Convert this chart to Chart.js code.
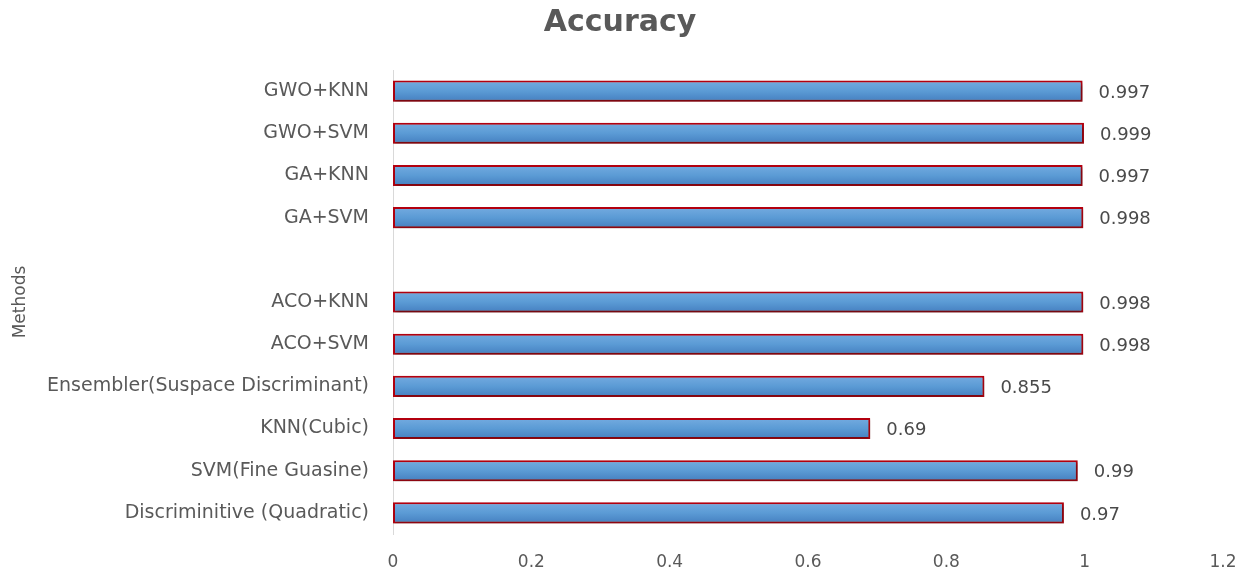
<!DOCTYPE html>
<html>
<head>
<meta charset="utf-8">
<script src="https://cdn.jsdelivr.net/npm/chart.js@4/dist/chart.umd.min.js"></script>
<style>
  html, body { margin: 0; padding: 0; background: #ffffff; }
  #wrap { width: 1256px; height: 571px; }
</style>
</head>
<body>
<div id="wrap"><canvas id="chart" width="1256" height="571"></canvas></div>
<script>
// Methods, listed top to bottom; the empty entry leaves a gap between groups
const methods = [
  'GWO+KNN',
  'GWO+SVM',
  'GA+KNN',
  'GA+SVM',
  '',
  'ACO+KNN',
  'ACO+SVM',
  'Ensembler(Suspace Discriminant)',
  'KNN(Cubic)',
  'SVM(Fine Guasine)',
  'Discriminitive (Quadratic)'
];
const accuracy = [0.997, 0.999, 0.997, 0.998, null, 0.998, 0.998, 0.855, 0.69, 0.99, 0.97];
const xTicks = [0, 0.2, 0.4, 0.6, 0.8, 1, 1.2];

const textGrey = '#595959';
const labelFont = "'DejaVu Sans', Verdana, sans-serif";
const barPct = 0.5;

// vertical blue gradient for each bar, placed from the category scale
function barFill(context) {
  const chart = context.chart;
  const ys = chart.scales && chart.scales.y;
  if (!ys || context.dataIndex === undefined) return '#5b9bd5';
  const cy = ys.getPixelForValue(context.dataIndex);
  const step = Math.abs(ys.getPixelForValue(1) - ys.getPixelForValue(0));
  const h = step * barPct;
  if (!isFinite(cy) || !isFinite(h)) return '#5b9bd5';
  const g = chart.ctx.createLinearGradient(0, cy - h / 2, 0, cy + h / 2);
  g.addColorStop(0, '#74abe0');
  g.addColorStop(0.5, '#5b9bd5');
  g.addColorStop(1, '#457fc0');
  return g;
}

// soft drop shadow under the bars
const barShadow = {
  id: 'barShadow',
  beforeDatasetDraw(chart) {
    const ctx = chart.ctx;
    ctx.save();
    ctx.shadowColor = 'rgba(40,20,20,0.55)';
    ctx.shadowBlur = 3;
    ctx.shadowOffsetX = 1;
    ctx.shadowOffsetY = 2;
  },
  afterDatasetDraw(chart) {
    chart.ctx.restore();
  }
};

// value labels to the right of each bar
const valueLabels = {
  id: 'valueLabels',
  afterDatasetsDraw(chart) {
    const ctx = chart.ctx;
    const xs = chart.scales.x;
    const meta = chart.getDatasetMeta(0);
    ctx.save();
    ctx.font = '18px ' + labelFont;
    ctx.fillStyle = '#4a4a4a';
    ctx.textAlign = 'left';
    ctx.textBaseline = 'middle';
    accuracy.forEach((v, i) => {
      if (v === null) return;
      const bar = meta.data[i];
      ctx.fillText(String(v), xs.getPixelForValue(v) + 16, bar.y + 2);
    });
    ctx.restore();
  }
};

new Chart(document.getElementById('chart'), {
  type: 'bar',
  data: {
    labels: methods,
    datasets: [{
      data: accuracy,
      backgroundColor: barFill,
      borderColor: '#b3000f',
      borderWidth: 2,
      borderSkipped: false,
      categoryPercentage: 1,
      barPercentage: barPct
    }]
  },
  options: {
    indexAxis: 'y',
    responsive: false,
    animation: false,
    layout: { padding: { left: 0, right: 16, top: 0, bottom: 0 } },
    plugins: {
      legend: { display: false },
      tooltip: { enabled: false },
      title: {
        display: true,
        text: 'Accuracy',
        color: textGrey,
        font: { family: "'DejaVu Sans', Verdana, sans-serif", size: 30, weight: 'bold', lineHeight: 1.2 },
        padding: { top: 5, bottom: 29 }
      }
    },
    scales: {
      x: {
        min: 0,
        max: 1.2,
        afterBuildTicks(scale) {
          scale.ticks = xTicks.map(v => ({ value: v }));
        },
        afterFit(scale) { scale.height = 37; },
        grid: { display: false, drawTicks: false },
        border: { display: false },
        ticks: {
          color: textGrey,
          padding: 18,
          font: { family: labelFont, size: 17 },
          callback: v => String(v)
        }
      },
      y: {
        afterFit(scale) { scale.width = 393; },
        grid: { display: false, drawTicks: false },
        border: { display: true, color: '#d9d9d9', width: 1 },
        ticks: {
          color: textGrey,
          padding: 24,
          font: { family: labelFont, size: 19 }
        },
        title: {
          display: true,
          text: 'Methods',
          color: textGrey,
          font: { family: labelFont, size: 17 },
          padding: { top: 10, bottom: 0 }
        }
      },
      // empty right-hand margin beside the plot
      yRight: {
        position: 'right',
        afterFit(scale) { scale.width = 17; },
        grid: { display: false, drawTicks: false },
        border: { display: false },
        ticks: { display: false }
      }
    }
  },
  plugins: [barShadow, valueLabels]
});
</script>
</body>
</html>
